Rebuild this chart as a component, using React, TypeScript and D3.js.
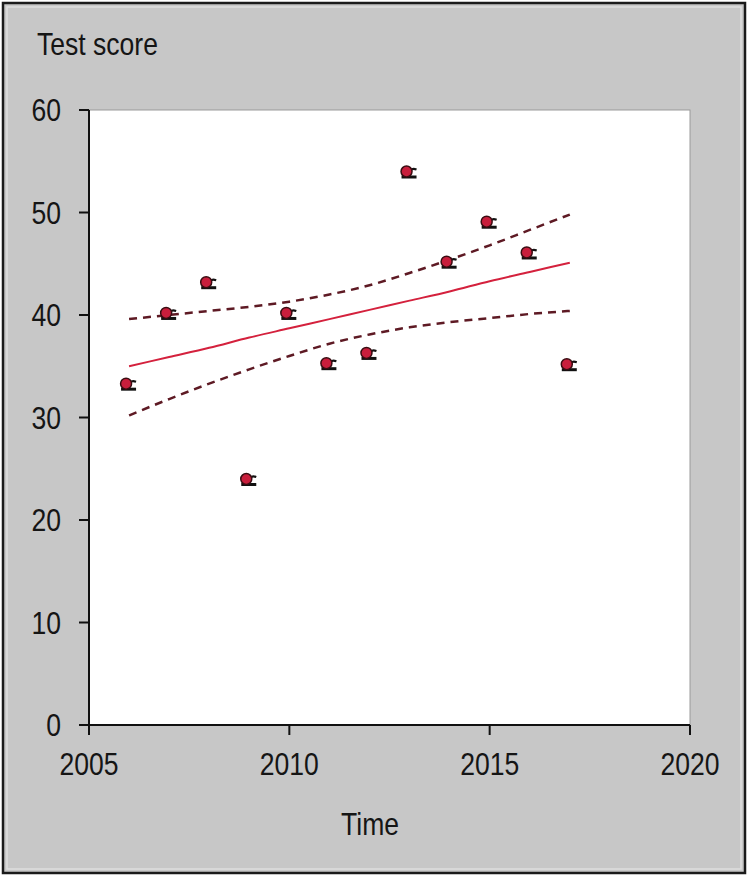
import React from "react";
import * as d3 from "d3";

const years = [2006, 2007, 2008, 2009, 2010, 2011, 2012, 2013, 2014, 2015, 2016, 2017];
const scores = [33.3, 40.2, 43.2, 24.0, 40.2, 35.3, 36.3, 54.0, 45.2, 49.1, 46.1, 35.2];
const fitValues = [35.0, 35.9, 36.8, 37.8, 38.7, 39.6, 40.5, 41.4, 42.3, 43.3, 44.2, 45.1];
const upperCI = [39.6, 40.0, 40.4, 40.8, 41.3, 42.0, 42.9, 44.1, 45.4, 46.8, 48.3, 49.8];
const lowerCI = [30.2, 31.8, 33.3, 34.7, 36.0, 37.2, 38.1, 38.8, 39.3, 39.7, 40.1, 40.4];
const xTicks = [2005, 2010, 2015, 2020];
const yTicks = [0, 10, 20, 30, 40, 50, 60];

const W = 750;
const H = 878;
const FONT = "'Liberation Sans', Arial, sans-serif";
const SX = 0.83;

function NText({
  x,
  y,
  anchor = "start",
  children,
  size = 32,
}: {
  x: number;
  y: number;
  anchor?: string;
  children: React.ReactNode;
  size?: number;
}) {
  return (
    <text
      transform={`translate(${x},${y}) scale(${SX},1)`}
      textAnchor={anchor}
      fontFamily={FONT}
      fontSize={size}
      fill="#151515"
    >
      {children}
    </text>
  );
}

export default function App() {
  const x = d3.scaleLinear().domain([2005, 2020]).range([89, 690]);
  const y = d3.scaleLinear().domain([0, 60]).range([725, 110]);
  const line = d3
    .line<[number, number]>()
    .x((d) => x(d[0]))
    .y((d) => y(d[1]))
    .curve(d3.curveMonotoneX);
  const fitPts = years.map((yr, i) => [yr, fitValues[i]] as [number, number]);
  const upPts = years.map((yr, i) => [yr, upperCI[i]] as [number, number]);
  const loPts = years.map((yr, i) => [yr, lowerCI[i]] as [number, number]);

  return (
    <svg
      width={W}
      height={H}
      style={{ position: "absolute", left: 0, top: 0, display: "block" }}
    >
      <rect x={0} y={0} width={W} height={H} fill="#ffffff" />
      <rect x={3} y={3} width={742} height={870} fill="#c7c7c7" stroke="#1a1a1a" strokeWidth={2.5} />
      <rect x={7} y={7} width={734} height={862} fill="none" stroke="#dedede" strokeWidth={1.5} />
      {/* plot area */}
      <rect
        x={x(2005)}
        y={y(60)}
        width={x(2020) - x(2005)}
        height={y(0) - y(60)}
        fill="#ffffff"
        stroke="#9a9a9a"
        strokeWidth={1}
      />
      {/* axes */}
      <line x1={x(2005)} x2={x(2005)} y1={y(60)} y2={y(0)} stroke="#111" strokeWidth={2} />
      <line x1={x(2005) - 10} x2={x(2020)} y1={y(0)} y2={y(0)} stroke="#111" strokeWidth={2} />
      {yTicks.map((t) => (
        <g key={"y" + t}>
          <line x1={x(2005) - 10} x2={x(2005)} y1={y(t)} y2={y(t)} stroke="#111" strokeWidth={2} />
          <NText x={61} y={y(t) + 11} anchor="end">
            {t}
          </NText>
        </g>
      ))}
      {xTicks.map((t) => (
        <g key={"x" + t}>
          <line x1={x(t)} x2={x(t)} y1={y(0)} y2={y(0) + 10} stroke="#111" strokeWidth={2} />
          <NText x={x(t)} y={775} anchor="middle">
            {t}
          </NText>
        </g>
      ))}
      <NText x={37} y={55}>
        Test score
      </NText>
      <NText x={370} y={835} anchor="middle">
        Time
      </NText>
      {/* regression and CI */}
      <path d={line(fitPts) || ""} fill="none" stroke="#d4213d" strokeWidth={2} />
      <path
        d={line(upPts) || ""}
        fill="none"
        stroke="#5e1a24"
        strokeWidth={2.5}
        strokeDasharray="8 6"
      />
      <path
        d={line(loPts) || ""}
        fill="none"
        stroke="#5e1a24"
        strokeWidth={2.5}
        strokeDasharray="8 6"
      />
      {/* markers */}
      {years.map((yr, i) => {
        const cx = x(yr) - 3;
        const cy = y(scores[i]);
        return (
          <g key={"m" + yr}>
            <path
              d={`M${cx + 10},${cy - 2} Q${cx + 4},${cy - 4} ${cx + 4},${cy + 1}`}
              fill="none"
              stroke="#111"
              strokeWidth={2.2}
            />
            <line x1={cx - 5} x2={cx + 10} y1={cy + 5.5} y2={cy + 5.5} stroke="#111" strokeWidth={3} />
            <circle cx={cx} cy={cy} r={5.5} fill="#c81e3c" stroke="#3a0d12" strokeWidth={1.5} />
          </g>
        );
      })}
    </svg>
  );
}
